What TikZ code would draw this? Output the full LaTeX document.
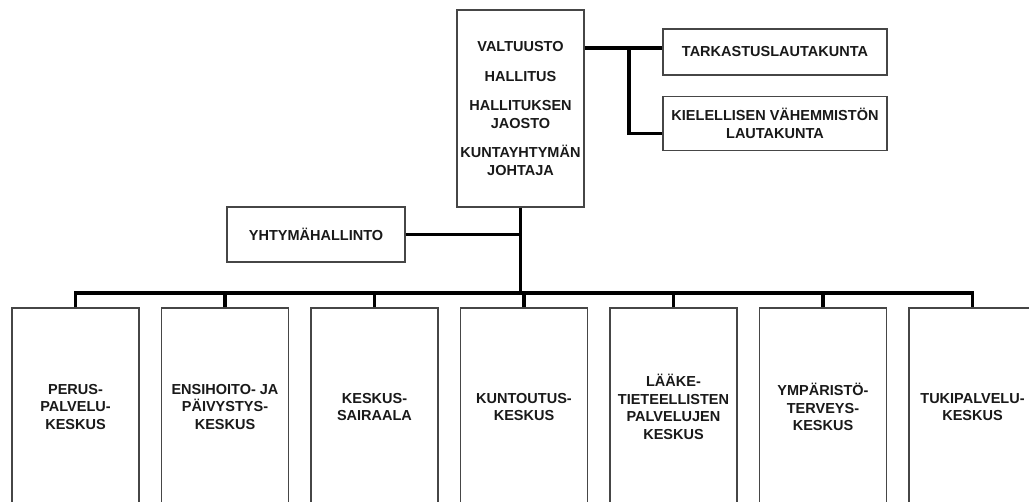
\documentclass[tikz,border=0pt]{standalone}
\usepackage{fontspec}
\setmainfont{Liberation Sans}
\usetikzlibrary{positioning}
\definecolor{colorline}{RGB}{70,70,70}
\definecolor{colortext}{RGB}{25,25,25}

\begin{document}
\begin{tikzpicture}[
    x=1pt, y=1pt,
    node distance = 21.3pt,
    font={\fontsize{14.5}{17.5}\selectfont\bfseries},
    board/.style={text=colortext,draw=colorline,line width=1.2pt,fill=white,align=center,rectangle,inner sep=0pt},
    unit/.style={board,minimum width=127pt,minimum height=198pt},
    link/.style={line width=3.2pt,black},
]
    \clip (0,0) rectangle (1029,502);

    % Management
    \node[board, minimum width=127pt, minimum height=197pt] (council) at (520.5,393.5) {VALTUUSTO\\[12pt]HALLITUS\\[12pt]HALLITUKSEN\\JAOSTO\\[12pt]KUNTAYHTYMÄN\\JOHTAJA};
    \node[board, minimum width=224pt, minimum height=46pt] (audit) at (775,450) {TARKASTUSLAUTAKUNTA};
    \node[board, minimum width=224pt, minimum height=54pt, below=20pt of audit] (minority) {KIELELLISEN VÄHEMMISTÖN\\LAUTAKUNTA};
    \node[board, minimum width=178pt, minimum height=55pt] (admin) at (316,267.5) {YHTYMÄHALLINTO};

    % Units
    \node[unit] (basic) at (75.5,95) {PERUS-\\PALVELU-\\KESKUS};
    \node[unit, right=of basic] (emergency) {ENSIHOITO- JA\\PÄIVYSTYS-\\KESKUS};
    \node[unit, right=of emergency] (hospital) {KESKUS-\\SAIRAALA};
    \node[unit, right=of hospital] (rehab) {KUNTOUTUS-\\KESKUS};
    \node[unit, right=of rehab] (medical) {LÄÄKE-\\TIETEELLISTEN\\PALVELUJEN\\KESKUS};
    \node[unit, right=of medical] (environ) {YMPÄRISTÖ-\\TERVEYS-\\KESKUS};
    \node[unit, right=of environ] (support) {TUKIPALVELU-\\KESKUS};

    % Connections
    \coordinate (bus) at (521,209);
    \coordinate (split) at (629,454);
    \draw[link] (council.south) -- (council.south |- bus);
    \draw[link] (admin.east) -- (admin.east -| council.south);
    \draw[link] (basic.north) |- (support.north |- bus) -- (support.north);
    \foreach \u in {emergency,hospital,rehab,medical,environ}
        \draw[link] (\u.north) -- (\u.north |- bus);
    \draw[link] (council.east |- split) -- (audit.west |- split);
    \draw[link] (split) |- ([yshift=-10pt]minority.west);

\end{tikzpicture}
\end{document}
